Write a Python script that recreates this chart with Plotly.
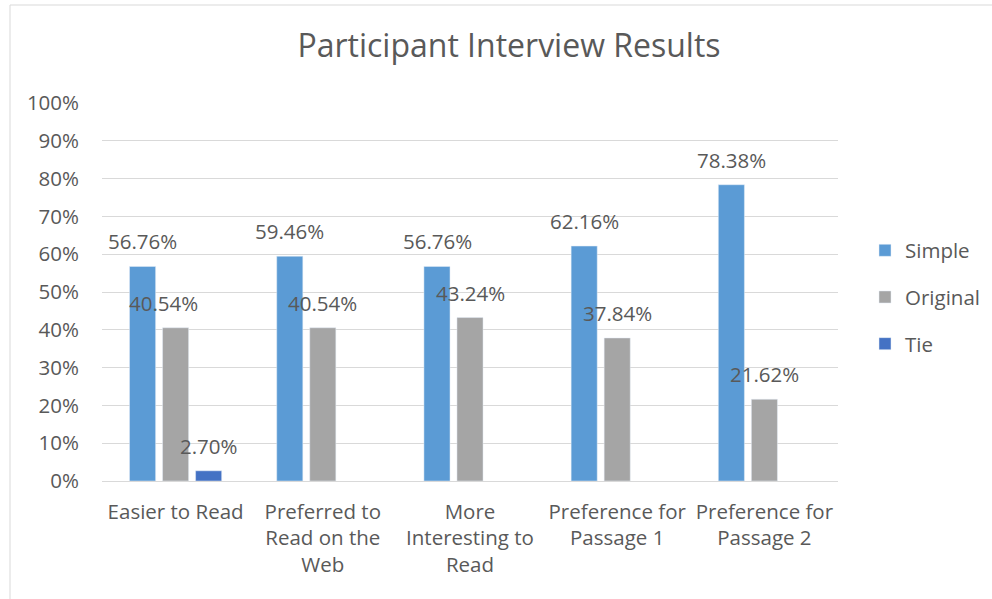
import plotly.graph_objects as go

categories = ["Easier to Read", "Preferred to<br>Read on the<br>Web", "More<br>Interesting to<br>Read",
              "Preference for<br>Passage 1", "Preference for<br>Passage 2"]
simple = [56.76, 59.46, 56.76, 62.16, 78.38]
original = [40.54, 40.54, 43.24, 37.84, 21.62]
tie = [2.70, None, None, None, None]
series_names = ["Simple", "Original", "Tie"]
colors = ["#5B9BD5", "#A5A5A5", "#4472C4"]
tick_vals = list(range(0, 101, 10))
tick_text = [f"{v}%" for v in tick_vals]

FONT = "Open Sans"
TXT = "#595959"
FS = 20.5

fig = go.Figure()
all_series = [simple, original, tie]
for i, (name, vals, col) in enumerate(zip(series_names, all_series, colors)):
    fig.add_trace(go.Bar(x=categories, y=vals, name=name, marker_color=col,
                         legendgroup=name, hoverinfo="skip"))

# data labels
shifts = [-33, 0, 33]
annotations = []
for si, vals in enumerate(all_series):
    for ci, v in enumerate(vals):
        if v is None:
            continue
        xs = shifts[si]
        if si == 1 and ci == 0:
            xs -= 12
        annotations.append(dict(x=categories[ci], y=v, xref="x", yref="y",
                                text=f"{v:.2f}%", showarrow=False, xshift=xs,
                                yanchor="middle", yshift=25,
                                font=dict(family=FONT, size=FS, color=TXT)))

fig.update_layout(
    width=992, height=599,
    paper_bgcolor="white", plot_bgcolor="white",
    margin=dict(l=102, r=154, t=103, b=118, autoexpand=False),
    barmode="group", bargap=0.327, bargroupgap=0.21,
    title=dict(text="Participant Interview Results", x=509 / 992, xanchor="center",
               y=1 - 45.5 / 599, yanchor="middle",
               font=dict(family=FONT, size=32, color=TXT)),
    font=dict(family=FONT, size=FS, color=TXT),
    xaxis=dict(showline=True, linecolor="#D9D9D9", linewidth=1, ticks="",
               ticklabelstandoff=12,
               tickfont=dict(family=FONT, size=FS, color=TXT)),
    yaxis=dict(range=[0, 100], tickvals=tick_vals, ticktext=tick_text,
               showgrid=True, gridcolor="#D9D9D9", gridwidth=1, zeroline=False,
               showline=False, ticks="", ticklen=0, ticklabelstandoff=22,
               tickfont=dict(family=FONT, size=FS, color=TXT)),
    legend=dict(x=(865 - 102) / 736, xanchor="left", y=0.5 + (292 - 297) / 378,
                yanchor="middle", traceorder="grouped", tracegroupgap=17,
                font=dict(family=FONT, size=FS, color=TXT), itemwidth=30),
    annotations=annotations,
    shapes=[dict(type="rect", xref="paper", yref="paper",
                 x0=(10 - 102) / 736, x1=(1008 - 102) / 736,
                 y0=(481 - 620) / 378, y1=(481 - 5) / 378,
                 line=dict(color="#D9D9D9", width=1), layer="below")],
)

fig.write_html("out.html", config={"displayModeBar": False},
               post_script="document.body.style.margin='0';document.body.style.padding='0';")
